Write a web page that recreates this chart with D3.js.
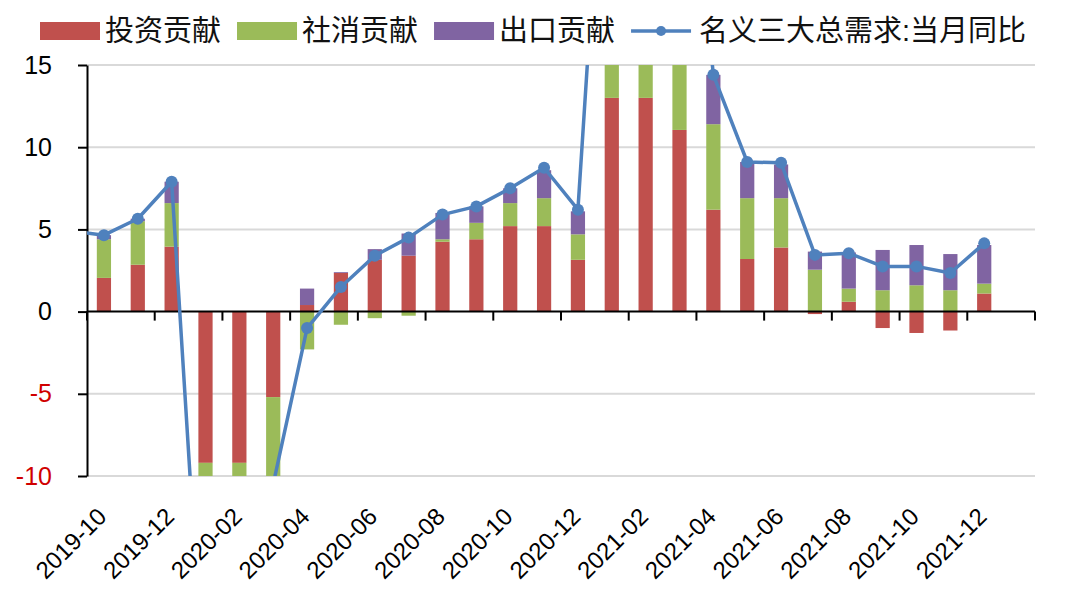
<!doctype html>
<html lang="zh">
<head>
  <meta charset="utf-8">
  <script src="https://d3js.org/d3.v7.min.js"></script>
  <style>
    body { margin: 0; background: #fff; }
    svg { display: block; }
    text { font-family: "Liberation Sans", "Noto Sans CJK SC", sans-serif; }
  </style>
</head>
<body>
  <svg id="chart" width="1066" height="598"></svg>
  <script>
    // months shown on the axis (last slot 2022-01 is left empty)
    const months = ["2019-10","2019-11","2019-12","2020-01","2020-02","2020-03","2020-04","2020-05","2020-06",
      "2020-07","2020-08","2020-09","2020-10","2020-11","2020-12","2021-01","2021-02","2021-03","2021-04",
      "2021-05","2021-06","2021-07","2021-08","2021-09","2021-10","2021-11","2021-12"];
    const slots = months.concat(["2022-01"]);

    const invest  = [2.05, 2.85, 3.95, -9.2, -9.2, -5.2, 0.4, 2.35, 3.15, 3.4, 4.25, 4.4, 5.2, 5.2, 3.15,
      13.0, 13.0, 11.05, 6.2, 3.2, 3.9, -0.15, 0.6, -1.0, -1.3, -1.15, 1.1];
    const consume = [2.35, 2.65, 2.65, -1.5, -1.5, -5.5, -2.3, -0.8, -0.4, -0.25, 0.15, 1.0, 1.4, 1.7, 1.55,
      6.0, 6.0, 5.0, 5.2, 3.7, 3.0, 2.55, 0.8, 1.3, 1.6, 1.3, 0.6];
    const exportC = [0.25, 0.15, 1.3, -1.0, -1.0, -1.0, 1.0, 0.05, 0.65, 1.35, 1.6, 1.0, 0.9, 1.7, 1.4,
      5.0, 5.0, 5.0, 3.0, 2.2, 2.05, 1.1, 2.2, 2.45, 2.45, 2.2, 2.35];
    // 名义三大总需求 当月同比, with the 2019-09 value that enters from the left edge
    const totalPrev = 4.9;
    const total = [4.65, 5.65, 7.9, -25, -22, -10.5, -1.0, 1.5, 3.4, 4.5, 5.9, 6.4, 7.5, 8.75, 6.2,
      38, 38, 35, 14.4, 9.1, 9.05, 3.45, 3.55, 2.75, 2.75, 2.35, 4.15];

    const yTicks = [-10, -5, 0, 5, 10, 15];
    const seriesNames = ["投资贡献", "社消贡献", "出口贡献"];
    const lineName = "名义三大总需求:当月同比";
    const colors = ["#C0504D", "#9BBB59", "#8064A2"];
    const lineColor = "#4F81BD";

    const width = 1066, height = 598;
    const margin = {top: 65, right: 31, bottom: 122, left: 87};

    const svg = d3.select("#chart");

    const x = d3.scaleBand().domain(slots).range([margin.left, width - margin.right]).padding(0);
    const y = d3.scaleLinear().domain([-10, 15]).range([height - margin.bottom, margin.top]);
    const cx = m => x(m) + x.bandwidth() / 2;
    const barW = x.bandwidth() * 0.42;

    svg.append("defs").append("clipPath").attr("id", "plot")
      .append("rect")
        .attr("x", margin.left).attr("y", y(15))
        .attr("width", width - margin.right - margin.left)
        .attr("height", y(-10) - y(15));

    // gridlines
    svg.append("g")
      .selectAll("line")
      .data(yTicks.filter(d => d !== 0))
      .join("line")
        .attr("x1", margin.left).attr("x2", width - margin.right)
        .attr("y1", d => y(d)).attr("y2", d => y(d))
        .attr("stroke", "#D9D9D9").attr("stroke-width", 2);

    // stacked bars
    const rows = months.map((m, i) => ({month: m, a: invest[i], b: consume[i], c: exportC[i]}));
    const stack = d3.stack().keys(["a", "b", "c"]).offset(d3.stackOffsetDiverging)(rows);

    svg.append("g")
        .attr("clip-path", "url(#plot)")
      .selectAll("g")
      .data(stack)
      .join("g")
        .attr("fill", (d, i) => colors[i])
      .selectAll("rect")
      .data(d => d)
      .join("rect")
        .attr("x", d => cx(d.data.month) - barW / 2)
        .attr("width", barW)
        .attr("y", d => y(Math.max(d[0], d[1])))
        .attr("height", d => Math.abs(y(d[0]) - y(d[1])));

    // y axis
    const yAxis = svg.append("g")
        .attr("transform", `translate(${margin.left},0)`)
        .call(d3.axisLeft(y).tickValues(yTicks).tickFormat(d => String(d))
          .tickSize(9).tickPadding(26).tickSizeOuter(0));
    yAxis.select(".domain").attr("stroke", "#000").attr("stroke-width", 2);
    yAxis.selectAll(".tick line").attr("stroke", "#000").attr("stroke-width", 2);
    yAxis.selectAll(".tick text")
        .attr("font-size", 25)
        .attr("fill", d => d < 0 ? "#D00000" : "#000");

    // x axis line at zero with ticks every two months on category boundaries
    const xg = svg.append("g");
    xg.append("line")
        .attr("x1", margin.left).attr("x2", width - margin.right)
        .attr("y1", y(0)).attr("y2", y(0))
        .attr("stroke", "#000").attr("stroke-width", 2);
    const bounds = d3.range(0, slots.length + 1, 2).map(i => margin.left + i * x.step());
    xg.selectAll(".xt")
      .data(bounds)
      .join("line")
        .attr("class", "xt")
        .attr("x1", d => d).attr("x2", d => d)
        .attr("y1", y(0)).attr("y2", y(0) + 9)
        .attr("stroke", "#000").attr("stroke-width", 2);

    // x labels (low position)
    svg.append("g")
      .selectAll("text")
      .data(months.filter((m, i) => i % 2 === 0))
      .join("text")
        .attr("transform", m => `translate(${cx(m) + 4},${y(-10) + 42}) rotate(-45)`)
        .attr("text-anchor", "end")
        .attr("font-size", 24)
        .attr("fill", "#000")
        .text(m => m);

    // line + markers
    const pts = [{x: cx(months[0]) - x.step(), v: totalPrev}]
      .concat(months.map((m, i) => ({x: cx(m), v: total[i]})));
    svg.append("path")
        .attr("clip-path", "url(#plot)")
        .attr("fill", "none")
        .attr("stroke", lineColor)
        .attr("stroke-width", 3.5)
        .attr("stroke-linejoin", "round")
        .attr("d", d3.line().x(d => d.x).y(d => y(d.v))(pts));
    svg.append("g")
        .attr("fill", lineColor)
      .selectAll("circle")
      .data(pts.slice(1).filter(d => d.v >= -10 && d.v <= 15))
      .join("circle")
        .attr("cx", d => d.x)
        .attr("cy", d => y(d.v))
        .attr("r", 6);

    // legend
    const lg = svg.append("g").attr("transform", "translate(40,31)");
    let lx = 0;
    seriesNames.forEach((name, i) => {
      lg.append("rect").attr("x", lx).attr("y", -9).attr("width", 60).attr("height", 18).attr("fill", colors[i]);
      const t = lg.append("text").attr("x", lx + 65).attr("y", 0).attr("dy", "0.36em")
        .attr("font-family", "Noto Sans CJK SC").attr("font-size", 29).attr("fill", "#111").text(name);
      lx += 65 + t.node().getComputedTextLength() + 16;
    });
    lg.append("line").attr("x1", lx).attr("x2", lx + 60).attr("y1", 0).attr("y2", 0)
      .attr("stroke", lineColor).attr("stroke-width", 3.5);
    lg.append("circle").attr("cx", lx + 30).attr("cy", 0).attr("r", 5).attr("fill", lineColor);
    lg.append("text").attr("x", lx + 68).attr("y", 0).attr("dy", "0.36em")
      .attr("font-family", "Noto Sans CJK SC").attr("font-size", 29).attr("fill", "#111").text(lineName);
  </script>
</body>
</html>
